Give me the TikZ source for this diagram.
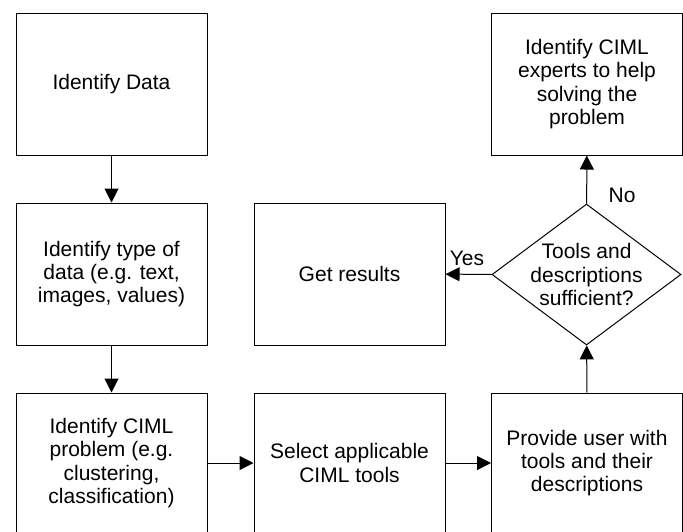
\documentclass[tikz,border=0pt]{standalone}
\usepackage{fontspec}
\setmainfont{Liberation Sans}
\usetikzlibrary{shapes.geometric,arrows.meta}
\begin{document}
\begin{tikzpicture}[x=0.5pt,y=-0.5pt,
  every node/.style={font=\fontsize{10.5pt}{11.7pt}\selectfont, align=center, text=black},
  box/.style={draw=black, line width=0.5pt, minimum width=95.5pt, minimum height=71pt, inner sep=0pt},
  dec/.style={draw=black, line width=0.5pt, diamond, minimum width=94.5pt, minimum height=70.5pt, inner sep=0pt},
  arr/.style={draw=black, line width=0.5pt, -{Triangle[length=7pt,width=7pt]}},
  lbl/.style={inner sep=0pt}]
\useasboundingbox (0,0) rectangle (683,531);
\clip (0,0) rectangle (683,531);
\node[box] (data) at (111.5,84) {Identify Data};
\node[box] (type) at (111.5,274) {Identify type of\\data (e.g. text,\\images, values)};
\node[box, minimum height=70pt] (prob) at (111.5,463) {Identify CIML\\problem (e.g.\\clustering,\\classification)};
\node[box, minimum height=70pt] (sel) at (349.5,463) {Select applicable\\CIML tools};
\node[box, minimum height=70pt] (prov) at (587,463) {Provide user with\\tools and their\\descriptions};
\node[box] (res) at (349.5,274) {Get results};
\node[dec] (suff) at (586.5,274.5) {};
\node[lbl] (sufftext) at (suff.center) {Tools and\\descriptions\\sufficient?};
\node[box] (exp) at (587,84) {Identify CIML\\experts to help\\solving the\\problem};
\draw[arr] (data) -- (type);
\draw[arr] (type) -- (prob);
\draw[arr] (prob) -- (sel);
\draw[arr] (sel) -- (prov);
\draw[arr] (prov) -- (suff);
\draw[arr] (suff) -- (res);
\draw[arr] (suff) -- (exp);
\node[lbl] (yes) at (467,258) {Yes};
\node[lbl] (no) at (622,195) {No};
\end{tikzpicture}
\end{document}
